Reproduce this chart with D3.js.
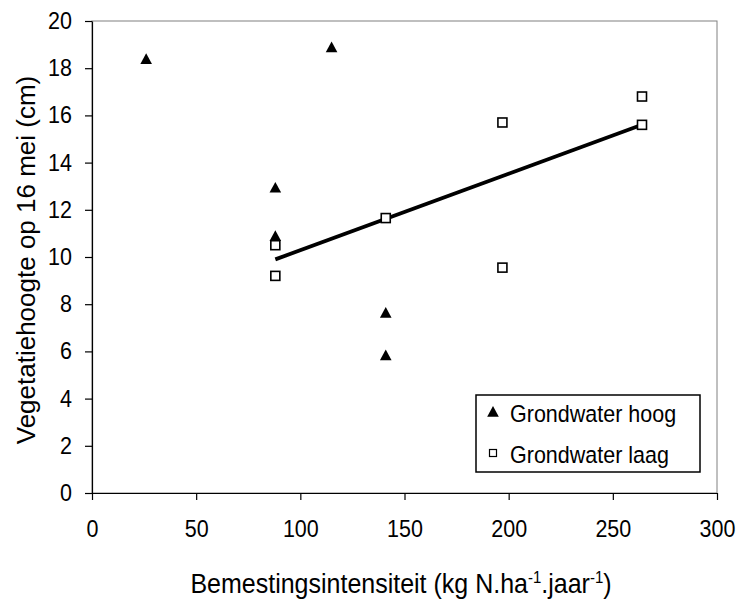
<!DOCTYPE html>
<html>
<head>
<meta charset="utf-8">
<script src="https://cdn.jsdelivr.net/npm/d3@7"></script>
<style>
  body { margin: 0; background: #fff; }
  svg text { font-family: "Liberation Sans", Arial, sans-serif; fill: #000; }
</style>
</head>
<body>
<div id="container"></div>
<script>
// Grondwater hoog (triangles)
const hoogX = [26, 115, 88, 88, 141, 141];
const hoogY = [18.4, 18.9, 12.95, 10.9, 7.65, 5.85];
// Grondwater laag (squares)
const laagX = [88, 88, 141, 197, 197, 264, 264];
const laagY = [10.5, 9.2, 11.65, 15.7, 9.55, 16.8, 15.6];
// trend line through laag
const trendX = [88, 264];
const trendY = [9.9, 15.6];

const xTicks = [0, 50, 100, 150, 200, 250, 300];
const yTicks = [0, 2, 4, 6, 8, 10, 12, 14, 16, 18, 20];
const legendLabels = ['Grondwater hoog', 'Grondwater laag'];

const width = 736;
const height = 601;
const margin = { top: 21, right: 19, bottom: 108, left: 92 };
// the reference text is a little taller than wide
const stretch = 'scale(1,1.1)';

const svg = d3.select('#container')
              .append('svg')
              .attr('width', width)
              .attr('height', height);

const x = d3.scaleLinear().domain([0, 300]).range([margin.left, width - margin.right]);
const y = d3.scaleLinear().domain([0, 20]).range([height - margin.bottom, margin.top]);

// plot border (top/right)
svg.append('rect')
   .attr('x', x(0))
   .attr('y', y(20))
   .attr('width', x(300) - x(0))
   .attr('height', y(0) - y(20))
   .attr('fill', 'none')
   .attr('stroke', '#808080')
   .attr('stroke-width', 1);

const xAxis = svg.append('g')
                 .attr('transform', 'translate(0,' + y(0) + ')')
                 .call(d3.axisBottom(x).tickValues(xTicks).tickSize(7).tickSizeOuter(0).tickPadding(18));
const yAxis = svg.append('g')
                 .attr('transform', 'translate(' + x(0) + ',0)')
                 .call(d3.axisLeft(y).tickValues(yTicks).tickSize(7).tickSizeOuter(0).tickPadding(13));

[xAxis, yAxis].forEach(ax => {
    ax.selectAll('path, line').attr('stroke', '#000').attr('stroke-width', 1.2);
    ax.selectAll('text')
      .attr('font-size', '21.5px')
      .attr('font-family', '"Liberation Sans", Arial, sans-serif')
      .attr('transform', stretch);
});

// trend line
const line = d3.line().x(d => x(d[0])).y(d => y(d[1]));
svg.append('path')
   .datum(d3.zip(trendX, trendY))
   .attr('d', line)
   .attr('fill', 'none')
   .attr('stroke', '#000')
   .attr('stroke-width', 3.8);

const triPath = 'M0,-5.5L5.8,5.2L-5.8,5.2Z';

svg.selectAll('.hoog')
   .data(d3.zip(hoogX, hoogY))
   .enter()
   .append('path')
   .attr('class', 'hoog')
   .attr('d', triPath)
   .attr('transform', d => 'translate(' + x(d[0]) + ',' + y(d[1]) + ')')
   .attr('fill', '#000');

svg.selectAll('.laag')
   .data(d3.zip(laagX, laagY))
   .enter()
   .append('rect')
   .attr('class', 'laag')
   .attr('x', d => x(d[0]) - 4.5)
   .attr('y', d => y(d[1]) - 4.5)
   .attr('width', 9)
   .attr('height', 9)
   .attr('fill', '#fff')
   .attr('stroke', '#000')
   .attr('stroke-width', 1.6);

// legend
const legend = svg.append('g').attr('transform', 'translate(476,395)');
legend.append('rect')
      .attr('width', 224)
      .attr('height', 77)
      .attr('fill', '#fff')
      .attr('stroke', '#000')
      .attr('stroke-width', 1.5);
legend.append('path')
      .attr('d', triPath)
      .attr('transform', 'translate(17,16.5)')
      .attr('fill', '#000');
legend.append('rect')
      .attr('x', 13.5)
      .attr('y', 54.5)
      .attr('width', 7)
      .attr('height', 7)
      .attr('fill', '#fff')
      .attr('stroke', '#000')
      .attr('stroke-width', 1.2);
legend.selectAll('text.leg')
      .data(legendLabels)
      .enter()
      .append('text')
      .attr('class', 'leg')
      .attr('transform', (d, i) => 'translate(34,' + (27 + i * 41) + ') ' + stretch)
      .attr('font-size', '21.5px')
      .text(d => d);

// axis titles
const xt = svg.append('text')
   .attr('transform', 'translate(401,593) ' + stretch)
   .attr('text-anchor', 'middle')
   .attr('font-size', '25px');
xt.append('tspan').text('Bemestingsintensiteit (kg N.ha');
xt.append('tspan').attr('dy', -9).attr('font-size', '15px').text('-1');
xt.append('tspan').attr('dy', 9).text('.jaar');
xt.append('tspan').attr('dy', -9).attr('font-size', '15px').text('-1');
xt.append('tspan').attr('dy', 9).text(')');

svg.append('text')
   .attr('transform', 'translate(35,260) rotate(-90)')
   .attr('text-anchor', 'middle')
   .attr('font-size', '26px')
   .text('Vegetatiehoogte op 16 mei (cm)');
</script>
</body>
</html>
